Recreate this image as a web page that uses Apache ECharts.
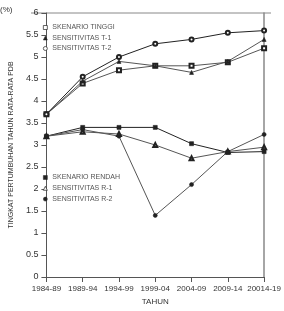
<!DOCTYPE html>
<html>
<head>
<meta charset="utf-8">
<script src="https://cdn.jsdelivr.net/npm/echarts@6/dist/echarts.min.js"></script>
<style>
html, body { margin: 0; padding: 0; background: #fff; }
#main { width: 284px; height: 311px; }
</style>
</head>
<body>
<div id="main"></div>
<script>
var tahun = ['1984-89', '1989-94', '1994-99', '1999-04', '2004-09', '2009-14', '20014-19'];
var skenarioTinggi = [3.7, 4.4, 4.7, 4.8, 4.8, 4.88, 5.2];
var sensitivitasT1 = [3.7, 4.45, 4.9, 4.8, 4.65, 4.9, 5.4];
var sensitivitasT2 = [3.7, 4.55, 5.0, 5.3, 5.4, 5.55, 5.6];
var skenarioRendah = [3.2, 3.4, 3.4, 3.4, 3.03, 2.83, 2.85];
var sensitivitasR1 = [3.2, 3.3, 3.25, 3.0, 2.7, 2.85, 2.95];
var sensitivitasR2 = [3.2, 3.35, 3.2, 1.4, 2.1, 2.85, 3.24];

var myChart = echarts.init(document.getElementById('main'));

function garis(nama, data, simbol, warna) {
    return {
        name: nama,
        type: 'line',
        data: data,
        symbol: simbol,
        symbolSize: 4,
        lineStyle: { color: warna, width: 1 },
        itemStyle: { color: '#222', borderColor: '#222', borderWidth: 0.6 },
        animation: false
    };
}

// legend icons: hollow ones drawn as white-filled with a thin border
var kosong = { color: '#fff', borderColor: '#222', borderWidth: 0.7 };
var isi = { color: '#222', borderColor: '#222', borderWidth: 0.5 };

var legendText = { fontSize: 7, color: '#555', fontFamily: 'Liberation Sans' };

var option = {
    textStyle: { fontFamily: 'Liberation Sans' },
    grid: { left: 31, right: 13, top: 13, bottom: 33 },
    legend: [{
        data: [
            { name: 'SKENARIO TINGGI', icon: 'rect', itemStyle: kosong },
            { name: 'SENSITIVITAS T-1', icon: 'triangle', itemStyle: isi },
            { name: 'SENSITIVITAS T-2', icon: 'circle', itemStyle: kosong }
        ],
        orient: 'vertical', left: 38, top: 19,
        itemWidth: 4, itemHeight: 4, itemGap: 3.5,
        textStyle: legendText
    }, {
        data: [
            { name: 'SKENARIO RENDAH', icon: 'rect', itemStyle: isi },
            { name: 'SENSITIVITAS R-1', icon: 'triangle', itemStyle: kosong },
            { name: 'SENSITIVITAS R-2', icon: 'circle', itemStyle: isi }
        ],
        orient: 'vertical', left: 38, top: 169,
        itemWidth: 4, itemHeight: 4, itemGap: 3.8,
        textStyle: legendText
    }],
    xAxis: {
        type: 'category',
        data: tahun,
        boundaryGap: false,
        name: 'TAHUN',
        nameLocation: 'middle',
        nameGap: 21,
        nameTextStyle: { fontSize: 8, color: '#333' },
        axisLine: { lineStyle: { color: '#555' } },
        axisTick: { alignWithLabel: true, lineStyle: { color: '#555' } },
        axisLabel: { fontSize: 8, color: '#333', interval: 0, showMaxLabel: true, hideOverlap: false },
        splitLine: { show: false }
    },
    yAxis: [{
        type: 'value',
        min: 0, max: 6, interval: 0.5,
        name: 'TINGKAT PERTUMBUHAN TAHUN RATA-RATA PDB',
        nameLocation: 'middle',
        nameGap: 25,
        nameTextStyle: { fontSize: 7, color: '#333' },
        axisLine: { show: true, lineStyle: { color: '#555' } },
        axisTick: { show: true, lineStyle: { color: '#555' } },
        axisLabel: { fontSize: 9, color: '#333' },
        splitLine: { show: false }
    }, {
        type: 'value',
        min: 0, max: 6,
        position: 'right',
        axisLine: { show: true, lineStyle: { color: '#888', width: 1.5 } },
        axisTick: { show: false },
        axisLabel: { show: false },
        splitLine: { show: false }
    }],
    graphic: [{
        type: 'text', left: 0, top: 6,
        style: { text: '(%)', fontSize: 8, fill: '#333', fontFamily: 'Liberation Sans' }
    }, {
        type: 'line',
        shape: { x1: 31, y1: 13, x2: 271, y2: 13 },
        style: { stroke: '#888', lineWidth: 1 }
    }],
    series: [
        garis('SKENARIO TINGGI', skenarioTinggi, 'emptyRect', '#555'),
        garis('SENSITIVITAS T-1', sensitivitasT1, 'triangle', '#555'),
        garis('SENSITIVITAS T-2', sensitivitasT2, 'emptyCircle', '#222'),
        garis('SKENARIO RENDAH', skenarioRendah, 'rect', '#222'),
        garis('SENSITIVITAS R-1', sensitivitasR1, 'emptyTriangle', '#555'),
        garis('SENSITIVITAS R-2', sensitivitasR2, 'circle', '#555')
    ]
};
myChart.setOption(option);
</script>
</body>
</html>
